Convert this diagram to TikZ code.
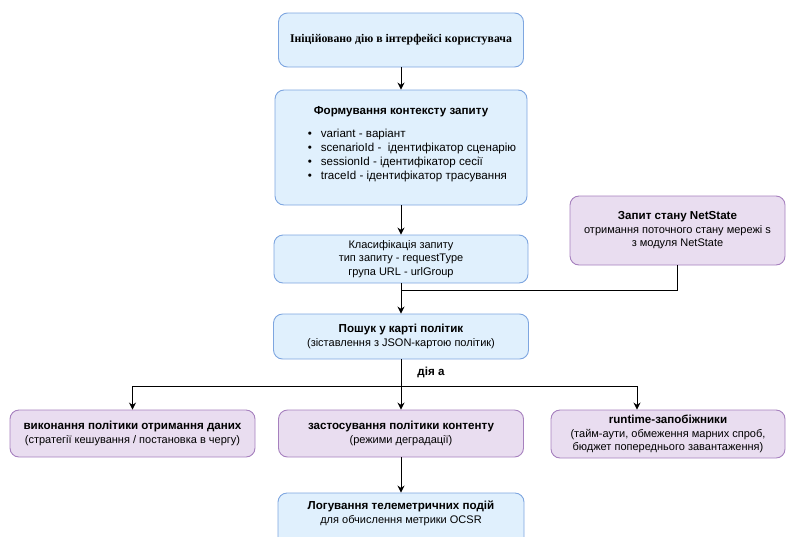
\documentclass[tikz,border=0pt]{standalone}
\usepackage{fontspec}
\setmainfont{Liberation Sans}
\newfontfamily\serifbf{Liberation Serif}
\usetikzlibrary{arrows.meta}

\definecolor{bluefill}{RGB}{224,240,253}
\definecolor{blueline}{RGB}{126,166,224}
\definecolor{purplefill}{RGB}{233,221,240}
\definecolor{purpleline}{RGB}{166,128,190}

\tikzset{bluebox/.style={draw=blueline,fill=bluefill,line width=0.9pt,rounded corners=9pt,align=center,inner sep=0pt},
  purplebox/.style={draw=purpleline,fill=purplefill,line width=0.9pt,rounded corners=9pt,align=center,inner sep=0pt},
  arr/.style={-{Stealth[length=7pt,width=7pt]},line width=0.9pt},
  link/.style={line width=0.9pt}}
\newcommand{\hd}[1]{{\fontsize{11.6}{13.5}\selectfont\bfseries #1}}

\begin{document}
\begin{tikzpicture}[x=1pt,y=-1pt,font=\fontsize{11}{13.5}\selectfont]
        \useasboundingbox (0,0) rectangle (786,536);
        \clip (0,0) rectangle (786,536);
        \node[bluebox,minimum width=245pt,minimum height=54pt] (init) at (401,40) {\fontsize{11.8}{13.5}\selectfont\serifbf\bfseries Ініційовано дію в інтерфейсі користувача};
        \node[bluebox,minimum width=252pt,minimum height=115pt] (ctx) at (401,147.5) {\hd{Формування контексту запиту}\\[10pt]
          \fontsize{11.6}{14}\selectfont
          \hspace{22pt}\begin{tabular}{@{}l@{\hspace{9pt}}l@{}}
          \textbullet & variant - варіант\\
          \textbullet & scenarioId -\ \ ідентифікатор сценарію\\
          \textbullet & sessionId - ідентифікатор сесії\\
          \textbullet & traceId - ідентифікатор трасування
          \end{tabular}\\[4pt]};
        \node[bluebox,minimum width=254pt,minimum height=48pt] (cls) at (401,259) {Класифікація запиту\\тип запиту - requestType\\група URL - urlGroup};
        \node[purplebox,minimum width=215pt,minimum height=69pt] (net) at (677.5,230.5) {\hd{Запит стану NetState}\\отримання поточного стану мережі s\\з модуля NetState};
        \node[bluebox,minimum width=255pt,minimum height=45pt] (look) at (401,336.5) {\hd{Пошук у карті політик}\\(зіставлення з JSON-картою політик)};
        \node (act) at (431,372) {\hd{дія а}};
        \node[purplebox,minimum width=245pt,minimum height=47pt] (fetch) at (132.5,433.5) {\hd{виконання політики отримання даних}\\(стратегії кешування / постановка в чергу)};
        \node[purplebox,minimum width=245pt,minimum height=47pt] (cont) at (401,433.5) {\hd{застосування політики контенту}\\(режими деградації)};
        \node[purplebox,minimum width=234pt,minimum height=48pt] (run) at (668,434) {\hd{runtime-запобіжники}\\(тайм-аути, обмеження марних спроб,\\бюджет попереднього завантаження)};
        \node[bluebox,minimum width=246pt,minimum height=64pt,text depth=26pt] (tele) at (401,525) {\hd{Логування телеметричних подій}\\для обчислення метрики OCSR};
        \coordinate (join) at (401,290);
        \coordinate (split) at (401,386);
        \draw[arr] (init) -- (ctx);
        \draw[arr] (ctx) -- (cls);
        \draw[arr] (cls) -- (look);
        \draw[link] (net.south) |- (join);
        \draw[link] (look) -- (split);
        \draw[arr] (split) -| (fetch.north);
        \draw[arr] (split) -- (cont.north);
        \draw[arr] (split) -| ([xshift=-31pt]run.north);
        \draw[arr] (cont) -- (tele);
    \end{tikzpicture}
\end{document}
